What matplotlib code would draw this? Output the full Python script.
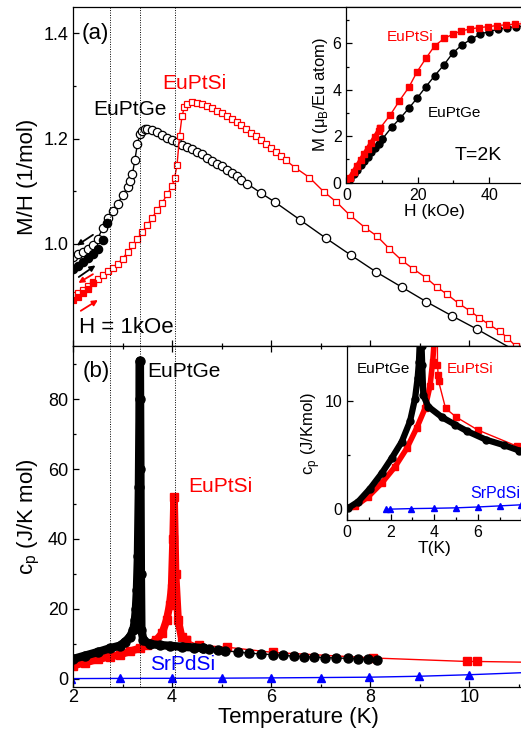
import matplotlib
matplotlib.use("Agg")
import matplotlib.pyplot as plt
from matplotlib.ticker import MultipleLocator, FixedLocator

plt.rcParams["font.family"] = ["Liberation Sans", "DejaVu Sans"]
plt.rcParams["mathtext.fontset"] = "custom"
plt.rcParams["mathtext.rm"] = "Liberation Sans"
plt.rcParams["axes.linewidth"] = 0.9

RED = "#ff0000"
BLUE = "#0000ff"

# ---- (a) M/H vs T, H = 1 kOe ----
mh_ge_T = [2.0, 2.1, 2.2, 2.3, 2.4, 2.5, 2.6, 2.7, 2.8, 2.9, 3.0, 3.1, 3.15, 3.2,
           3.25, 3.3, 3.35, 3.4, 3.45, 3.5, 3.6, 3.7, 3.8, 3.9, 4.0, 4.1, 4.2,
           4.3, 4.4, 4.5, 4.6, 4.7, 4.8, 4.9, 5.0, 5.1, 5.2, 5.3, 5.4, 5.52,
           5.8, 6.08, 6.59, 7.10, 7.60, 8.11, 8.63, 9.13, 9.65, 10.15, 11.15]
mh_ge = [0.975, 0.980, 0.985, 0.990, 0.998, 1.010, 1.030, 1.050, 1.063, 1.076,
         1.092, 1.108, 1.120, 1.133, 1.160, 1.190, 1.208, 1.215, 1.218, 1.218,
         1.216, 1.212, 1.207, 1.202, 1.198, 1.193, 1.188, 1.184, 1.180, 1.175,
         1.170, 1.164, 1.158, 1.152, 1.147, 1.140, 1.134, 1.128, 1.121, 1.114,
         1.096, 1.079, 1.045, 1.011, 0.979, 0.947, 0.918, 0.890, 0.863, 0.838,
         0.785]
mh_ge_fc_T = [2.0, 2.1, 2.2, 2.3, 2.4, 2.5, 2.6, 2.68]
mh_ge_fc = [0.952, 0.958, 0.965, 0.973, 0.981, 0.991, 1.008, 1.040]

mh_si_T = [2.0, 2.1, 2.2, 2.3, 2.4, 2.5, 2.6, 2.7, 2.8, 2.9, 3.0, 3.1, 3.2, 3.3,
           3.4, 3.5, 3.6, 3.7, 3.8, 3.9, 4.0, 4.05, 4.1, 4.15, 4.2, 4.25, 4.3,
           4.4, 4.5, 4.6, 4.7, 4.8, 4.9, 5.0, 5.1, 5.2, 5.3, 5.4, 5.5, 5.6,
           5.7, 5.8, 5.9, 6.0, 6.1, 6.2, 6.29, 6.48, 6.77, 7.06, 7.31, 7.58,
           7.89, 8.13, 8.38, 8.63, 8.87, 9.12, 9.34, 9.55, 9.78, 10.02, 10.19,
           10.39, 10.61, 10.76, 10.93]
mh_si = [0.902, 0.907, 0.913, 0.920, 0.927, 0.933, 0.940, 0.948, 0.955, 0.962,
         0.972, 0.984, 0.997, 1.010, 1.022, 1.036, 1.050, 1.064, 1.078, 1.094,
         1.110, 1.125, 1.150, 1.205, 1.243, 1.260, 1.266, 1.269, 1.268, 1.266,
         1.262, 1.258, 1.253, 1.248, 1.243, 1.237, 1.231, 1.225, 1.218, 1.211,
         1.204, 1.197, 1.190, 1.182, 1.174, 1.167, 1.159, 1.145, 1.126, 1.099,
         1.080, 1.055, 1.031, 1.015, 0.991, 0.969, 0.952, 0.936, 0.918, 0.904,
         0.887, 0.872, 0.860, 0.847, 0.834, 0.822, 0.806]
mh_si_fc_T = [2.0, 2.1, 2.2, 2.3, 2.4]
mh_si_fc = [0.893, 0.899, 0.906, 0.915, 0.925]

# ---- inset (a): M vs H at 2 K ----
m_ge_H_dense = [0, 1, 2, 3, 4, 5, 6, 7, 8, 9, 10]
m_ge_dense = [0, 0.17, 0.36, 0.55, 0.74, 0.93, 1.12, 1.31, 1.50, 1.68, 1.87]
m_ge_H = [10, 12.8, 15.1, 17.5, 19.8, 22.3, 24.7, 27.3, 29.8, 32.4, 35.0, 37.5,
          39.9, 42.5, 45.0, 47.5, 50.0]
m_ge = [1.87, 2.41, 2.78, 3.21, 3.64, 4.14, 4.60, 5.07, 5.58, 5.94, 6.18, 6.40,
        6.51, 6.61, 6.68, 6.72, 6.75]

m_si_H_dense = [0, 1, 2, 3, 4, 5, 6, 7, 8, 9, 9.52]
m_si_dense = [0, 0.22, 0.47, 0.72, 0.97, 1.22, 1.47, 1.72, 1.97, 2.22, 2.37]
m_si_H = [9.52, 12.3, 14.85, 17.5, 19.8, 22.3, 24.7, 27.45, 29.8, 32.2, 34.7,
          37.1, 39.7, 42.2, 44.8, 47.3, 49.8]
m_si = [2.37, 2.92, 3.53, 4.11, 4.78, 5.36, 5.89, 6.22, 6.39, 6.54, 6.62, 6.68,
        6.72, 6.77, 6.80, 6.83, 6.85]

# ---- (b) specific heat ----
cp_ge_T_dense = [2.0, 2.25, 2.5, 2.75, 2.94, 3.05, 3.15, 3.22, 3.25, 3.27, 3.29,
                 3.31, 3.33, 3.345, 3.35, 3.36, 3.37, 3.38, 3.42, 3.55, 3.75,
                 3.95, 4.2, 4.45, 4.63]
cp_ge_dense = [5.6, 6.6, 7.6, 8.7, 9.4, 10.5, 12.0, 14.0, 16.8, 20, 25.4, 35, 55,
               80, 91, 60, 30, 14, 11, 9.9, 9.6, 9.4, 9.1, 8.9, 8.7]
cp_ge_T = [4.63, 4.74, 4.92, 5.07, 5.32, 5.56, 5.79, 6.03, 6.23, 6.45, 6.66,
           6.87, 7.09, 7.31, 7.54, 7.75, 7.96, 8.14]
cp_ge = [8.7, 8.4, 8.2, 8.0, 7.6, 7.3, 7.05, 6.85, 6.65, 6.45, 6.3, 6.15, 6.0,
         5.9, 5.8, 5.65, 5.55, 5.45]

cp_si_T_dense = [2.0, 2.25, 2.5, 2.75, 2.94, 3.15, 3.35, 3.5, 3.68, 3.8, 3.89,
                 3.95, 3.99, 4.02, 4.04, 4.07, 4.12, 4.19, 4.29]
cp_si_dense = [3.7, 4.6, 5.5, 6.3, 6.8, 7.8, 8.7, 9.6, 11.0, 13.0, 16.8, 21, 26,
               40, 52, 30, 16.8, 12, 11]
cp_si_T = [4.29, 4.55, 5.1, 6.03, 8.06, 9.95, 10.15, 12.0]
cp_si = [11, 9.5, 9.0, 7.5, 5.9, 4.9, 4.9, 4.5]

cp_sr_T = [1.81, 1.96, 2.95, 4.0, 5.0, 6.0, 7.0, 7.98, 8.99, 9.99, 12.0]
cp_sr = [0.0, 0.0, 0.05, 0.08, 0.12, 0.2, 0.3, 0.4, 0.67, 1.1, 2.2]

# ---- inset (b): low-T specific heat ----
ins_ge_T = [0.06, 0.52, 1.06, 1.59, 2.05, 2.51, 2.89, 3.12, 3.24, 3.30, 3.35,
            3.42, 3.45, 3.5, 3.73, 4.34, 4.95, 5.5, 6.38, 7.2, 7.9, 8.2]
ins_ge = [0.1, 0.7, 1.9, 3.3, 4.7, 6.2, 8.1, 10.2, 12.1, 13.6, 16, 15, 13.3, 10.5,
          9.45, 8.5, 7.8, 7.2, 6.4, 5.9, 5.4, 5.2]
ins_si_T_dense = [0.37, 0.98, 1.59, 2.2, 2.74, 3.2, 3.58, 3.81, 3.93, 4.0, 4.03]
ins_si_dense = [0.25, 1.16, 2.4, 3.9, 5.6, 7.5, 9.3, 11.4, 13.6, 15.5, 17]
ins_si_T = [4.04, 4.15, 4.18, 4.2, 4.52, 5.0, 6.0, 7.8, 9.0]
ins_si = [52, 13.3, 12.4, 11.8, 9.3, 8.5, 7.3, 5.8, 5.2]

transitions = [2.75, 3.35, 4.05]


def style_axis(ax, labelsize):
    ax.tick_params(which="both", direction="in", width=0.9, labelsize=labelsize)
    ax.tick_params(which="major", length=4)
    ax.tick_params(which="minor", length=2.5)


def main():
    fig = plt.figure(figsize=(5.21, 7.33), dpi=100)
    ax_a = fig.add_axes([0.1401, 0.5273, 0.8637, 0.4632])
    ax_b = fig.add_axes([0.1401, 0.0628, 0.8637, 0.4645])

    # ---- panel (a) ----
    ax_a.plot(mh_ge_T, mh_ge, "-o", color="black", mfc="white", ms=6, mew=0.9, lw=1)
    ax_a.plot(mh_ge_fc_T, mh_ge_fc, "o", color="black", ms=6, mew=0.9)
    ax_a.plot(mh_si_T, mh_si, "-s", color=RED, mfc="white", ms=5, mew=0.9, lw=1)
    ax_a.plot(mh_si_fc_T, mh_si_fc, "s", color=RED, ms=5, mew=0.9)
    for t in transitions:
        ax_a.axvline(t, color="black", lw=0.7, ls=(0, (1, 1.5)), zorder=5)

    # heating / cooling arrows
    arrows = [((2.03, 0.994), (2.45, 1.020), "black"),
              ((2.50, 0.962), (2.07, 0.934), "black"),
              ((2.06, 0.923), (2.45, 0.945), RED),
              ((2.55, 0.896), (2.11, 0.870), RED)]
    for head, tail, c in arrows:
        ax_a.annotate("", xy=head, xytext=tail, zorder=6,
                      arrowprops=dict(arrowstyle="-|>", color=c, lw=1.3, mutation_scale=8))

    ax_a.set_xlim(2, 11.08)
    ax_a.set_ylim(0.805, 1.45)
    ax_a.xaxis.set_major_locator(MultipleLocator(2))
    ax_a.xaxis.set_minor_locator(MultipleLocator(1))
    ax_a.yaxis.set_major_locator(MultipleLocator(0.2))
    ax_a.yaxis.set_minor_locator(MultipleLocator(0.1))
    ax_a.yaxis.set_major_formatter(plt.FormatStrFormatter("%.1f"))
    style_axis(ax_a, 13)
    ax_a.tick_params(axis="x", labelbottom=False)
    ax_a.set_ylabel("M/H (1/mol)", fontsize=16)

    ax_a.text(2.17, 1.40, "(a)", fontsize=16, va="center")
    ax_a.text(3.15, 1.255, "EuPtGe", fontsize=15, ha="center", va="center")
    ax_a.text(4.44, 1.305, "EuPtSi", fontsize=15, ha="center", va="center", color=RED)
    ax_a.text(2.12, 0.841, "H = 1kOe", fontsize=16, va="center")

    # ---- panel (b) ----
    ax_b.plot(cp_ge_T_dense, cp_ge_dense, "-o", color="black", ms=6.5, lw=6,
              solid_capstyle="butt", zorder=3)
    ax_b.plot(cp_ge_T, cp_ge, "-o", color="black", ms=6.5, lw=1, zorder=3)
    ax_b.plot(cp_si_T_dense, cp_si_dense, "-s", color=RED, ms=5.5, lw=5.5,
              solid_capstyle="butt", zorder=2)
    ax_b.plot(cp_si_T, cp_si, "-s", color=RED, ms=5.5, lw=1, zorder=2)
    ax_b.plot(cp_sr_T, cp_sr, "-^", color=BLUE, ms=6, lw=1, zorder=2)
    for t in transitions:
        ax_b.axvline(t, color="black", lw=0.7, ls=(0, (1, 1.5)), zorder=5)

    ax_b.set_xlim(2, 11.08)
    ax_b.set_ylim(-2.4, 95.1)
    ax_b.xaxis.set_major_locator(MultipleLocator(2))
    ax_b.xaxis.set_minor_locator(MultipleLocator(1))
    ax_b.yaxis.set_major_locator(MultipleLocator(20))
    ax_b.yaxis.set_minor_locator(MultipleLocator(10))
    style_axis(ax_b, 13)
    ax_b.tick_params(axis="x", which="both", top=True, pad=1.5)
    ax_b.set_ylabel(r"c$_\mathregular{p}$ (J/K mol)", fontsize=16)
    ax_b.set_xlabel("Temperature (K)", fontsize=16, labelpad=1)

    ax_b.text(2.2, 87.8, "(b)", fontsize=16, va="center")
    ax_b.text(3.5, 87.8, "EuPtGe", fontsize=15, va="center")
    ax_b.text(4.33, 55, "EuPtSi", fontsize=15, va="center", color=RED)
    ax_b.text(3.56, 3.9, "SrPdSi", fontsize=15, va="center", color=BLUE)

    # ---- inset (a) ----
    ins_a = fig.add_axes([0.665, 0.7508, 0.3388, 0.2397])
    ins_a.plot(m_ge_H_dense, m_ge_dense, "-o", color="black", ms=5, lw=3.5,
               solid_capstyle="butt")
    ins_a.plot(m_ge_H, m_ge, "-o", color="black", ms=5, lw=1)
    ins_a.plot(m_si_H_dense, m_si_dense, "-s", color=RED, ms=4.5, lw=3.5,
               solid_capstyle="butt")
    ins_a.plot(m_si_H, m_si, "-s", color=RED, ms=4.5, lw=1)
    ins_a.set_xlim(0, 49.5)
    ins_a.set_ylim(0, 7.57)
    ins_a.xaxis.set_major_locator(FixedLocator([0, 20, 40]))
    ins_a.xaxis.set_minor_locator(MultipleLocator(10))
    ins_a.yaxis.set_major_locator(MultipleLocator(2))
    ins_a.yaxis.set_minor_locator(MultipleLocator(1))
    style_axis(ins_a, 11.5)
    ins_a.set_xlabel("H (kOe)", fontsize=12.5, labelpad=1)
    ins_a.set_ylabel(r"M (μ$_\mathregular{B}$/Eu atom)", fontsize=12, labelpad=2)
    ins_a.text(11.2, 6.29, "EuPtSi", fontsize=11, va="center", color=RED)
    ins_a.text(22.9, 2.99, "EuPtGe", fontsize=11, va="center")
    ins_a.text(30.4, 1.19, "T=2K", fontsize=14, va="center")

    # ---- inset (b) ----
    ins_b = fig.add_axes([0.666, 0.2906, 0.3378, 0.2367])
    ins_b.plot(ins_ge_T, ins_ge, "-o", color="black", ms=5, lw=4.5,
               solid_capstyle="butt", zorder=3)
    ins_b.plot(ins_si_T_dense, ins_si_dense, "-s", color=RED, ms=4.5, lw=4,
               solid_capstyle="butt", zorder=2)
    ins_b.plot(ins_si_T, ins_si, "-s", color=RED, ms=4.5, lw=1, zorder=2)
    ins_b.plot(cp_sr_T, cp_sr, "-^", color=BLUE, ms=5, lw=1, zorder=2)
    ins_b.set_xlim(0, 8.07)
    ins_b.set_ylim(-1, 15)
    ins_b.xaxis.set_major_locator(FixedLocator([0, 2, 4, 6]))
    ins_b.xaxis.set_minor_locator(MultipleLocator(1))
    ins_b.yaxis.set_major_locator(MultipleLocator(10))
    ins_b.yaxis.set_minor_locator(MultipleLocator(5))
    style_axis(ins_b, 11.5)
    ins_b.set_xlabel("T(K)", fontsize=12.5, labelpad=1)
    ins_b.set_ylabel(r"c$_\mathregular{p}$ (J/Kmol)", fontsize=12, labelpad=2)
    ins_b.text(0.47, 12.9, "EuPtGe", fontsize=11, va="center")
    ins_b.text(4.58, 12.9, "EuPtSi", fontsize=11, va="center", color=RED)
    ins_b.text(5.67, 1.41, "SrPdSi", fontsize=11.5, va="center", color=BLUE)

    fig.savefig("out.png", dpi=100)


if __name__ == "__main__":
    main()
